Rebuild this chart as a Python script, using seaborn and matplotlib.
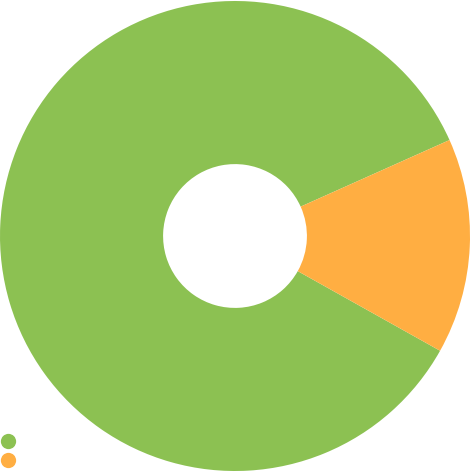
import matplotlib
matplotlib.use("Agg")
import matplotlib.pyplot as plt
from matplotlib.lines import Line2D
import seaborn as sns

labels = ["", ""]
values = [23, 4]
colors = ["#8CC152", "#FFAE42"]

sns.set_theme(style="white")

fig = plt.figure(figsize=(4.70, 4.73), dpi=100)
ax = fig.add_axes([0, 2 / 473, 1, 470 / 473])
ax.pie(values, colors=colors, startangle=24.1, counterclock=True,
       radius=1.0, wedgeprops=dict(width=0.694, edgecolor="none"))
ax.set_xlim(-1, 1)
ax.set_ylim(-1, 1)
ax.set_aspect("equal")
ax.axis("off")

handles = [Line2D([0], [0], marker="o", linestyle="none", markersize=11,
                  markerfacecolor=c, markeredgecolor="none") for c in colors]
fig.legend(handles, labels, loc="lower left", bbox_to_anchor=(-0.012, -0.004),
           frameon=False, handletextpad=0.2, labelspacing=0.3, borderaxespad=0,
           handlelength=1.0)

fig.savefig("out.png", dpi=100)
